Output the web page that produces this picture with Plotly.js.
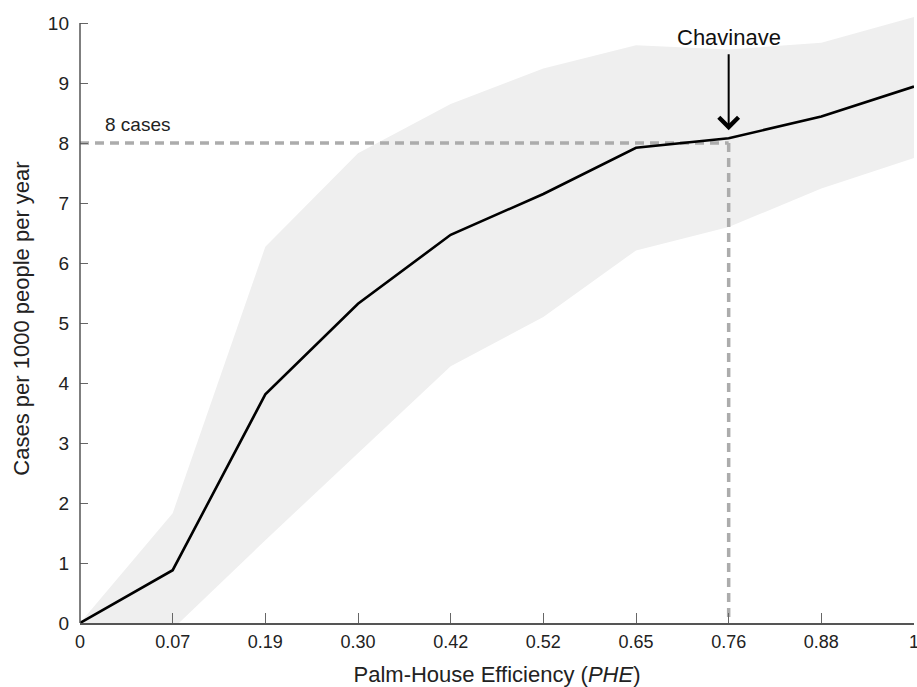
<!DOCTYPE html>
<html>
<head>
<meta charset="utf-8">
<script src="https://cdn.plot.ly/plotly-3.0.1.min.js"></script>
<style>html,body{margin:0;padding:0;background:#fff}#chart{width:917px;height:687px}</style>
</head>
<body>
<div id="chart"></div>
<script>
// Categories (Palm-House Efficiency)
const categories = ["0", "0.07", "0.19", "0.30", "0.42", "0.52", "0.65", "0.76", "0.88", "1"];
// Cases per 1000 people per year (central estimate)
const cases = [0, 0.88, 3.81, 5.32, 6.47, 7.15, 7.92, 8.08, 8.44, 8.94];
// Uncertainty band
const upper = [0, 1.83, 6.27, 7.83, 8.65, 9.24, 9.63, 9.56, 9.67, 10.1];
const lower = [0, -0.1, 1.38, 2.83, 4.28, 5.1, 6.21, 6.6, 7.24, 7.75];
// Reference (Chavinave)
const refCategory = "0.76";
const refCases = 8;
const refLabel = "Chavinave";
const refCasesLabel = "8 cases";

const font = "Liberation Sans, Arial, sans-serif";
const dashColor = "#acacac";

const traces = [
  {x: categories, y: lower, type: "scatter", mode: "lines", line: {width: 0, color: "rgba(0,0,0,0)"}, hoverinfo: "skip", showlegend: false},
  {x: categories, y: upper, type: "scatter", mode: "lines", fill: "tonexty", fillcolor: "#efefef", line: {width: 0, color: "rgba(0,0,0,0)"}, hoverinfo: "skip", showlegend: false},
  {x: [categories[0], refCategory], y: [refCases, refCases], type: "scatter", mode: "lines", line: {color: dashColor, width: 3.5, dash: "9px,6px"}, showlegend: false},
  {x: [refCategory, refCategory], y: [refCases, 0], type: "scatter", mode: "lines", line: {color: dashColor, width: 3.5, dash: "9px,6px"}, showlegend: false},
  {x: categories, y: cases, type: "scatter", mode: "lines", line: {color: "#000", width: 2.6}, showlegend: false}
];

const refIdx = categories.indexOf(refCategory);

const layout = {
  width: 917, height: 687,
  margin: {l: 80, r: 3, t: 14, b: 64},
  paper_bgcolor: "#fff", plot_bgcolor: "#fff",
  font: {family: font, color: "#222"},
  xaxis: {
    type: "category", range: [0, 9],
    tickvals: categories, ticktext: categories,
    showgrid: false, zeroline: false,
    showline: true, linecolor: "#555", linewidth: 1.5,
    ticks: "inside", ticklen: 10, tickcolor: "#666", tickwidth: 1,
    tickfont: {size: 18, color: "#222", family: font},
    ticklabelstandoff: 2,
    title: {text: "Palm-House Efficiency (<i>PHE</i>)", font: {size: 22, color: "#222", family: font}, standoff: 16}
  },
  yaxis: {
    range: [0, 10.15],
    tickvals: [0,1,2,3,4,5,6,7,8,9,10],
    showgrid: false, zeroline: false, showline: false,
    ticks: "inside", ticklen: 8, tickcolor: "#666", tickwidth: 1,
    tickfont: {size: 19, color: "#222", family: font},
    ticklabelstandoff: 10,
    title: {text: "Cases per 1000 people per year", font: {size: 22, color: "#222", family: font}, standoff: 12}
  },
  shapes: [
    {type: "line", xref: "paper", yref: "y", x0: 0, x1: 0, y0: 0, y1: 10, line: {color: "#555", width: 1.5}}
  ],
  annotations: [
    {x: refIdx, y: cases[refIdx], xref: "x", yref: "y", text: refLabel,
     showarrow: true, arrowhead: 4, arrowsize: 1.9, arrowwidth: 2, arrowcolor: "#000",
     ax: 0, ay: -101, standoff: 8, borderpad: 4,
     font: {size: 22, color: "#111", family: font}},
    {x: 0.25, y: refCases, xref: "x", yref: "y", text: refCasesLabel, showarrow: false,
     xanchor: "left", yanchor: "bottom", yshift: 6,
     font: {size: 19, color: "#222", family: font}}
  ]
};

Plotly.newPlot("chart", traces, layout, {displayModeBar: false, staticPlot: true});
</script>
</body>
</html>
